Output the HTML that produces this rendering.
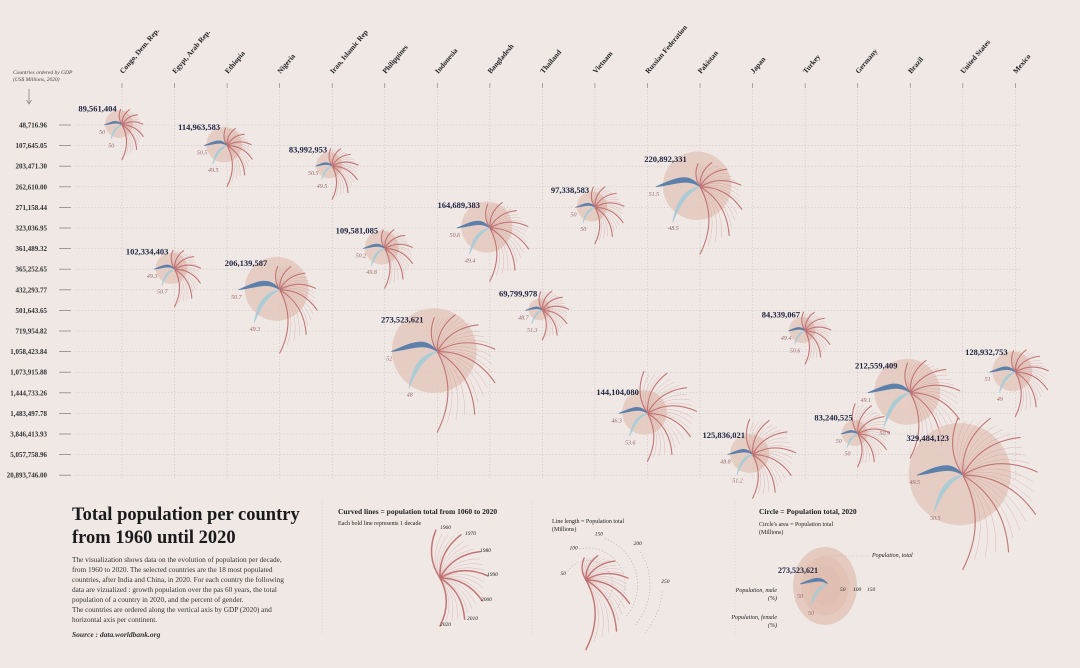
<!DOCTYPE html>
<html><head><meta charset="utf-8">
<style>
html,body{margin:0;padding:0;background:#efe8e5;}
svg{display:block;font-family:"Liberation Serif",serif;}
</style></head>
<body>
<svg id="chart" width="1080" height="668" viewBox="0 0 1080 668" xmlns="http://www.w3.org/2000/svg">
<rect x="0" y="0" width="1080" height="668" fill="#efe8e5"/>
<g id="grid"></g>
<g id="marks"></g>
<g id="legend"></g>
<g>
<text x="72" y="520" font-size="18.5" font-weight="bold" fill="#1a1a1a">Total population per country</text>
<text x="72" y="543" font-size="18.5" font-weight="bold" fill="#1a1a1a">from 1960 until 2020</text>
<g font-size="7.3" fill="#333">
<text x="72" y="562">The visualization shows data on the evolution of population per decade,</text>
<text x="72" y="572">from 1960 to 2020.  The selected countries are the 18 most populated</text>
<text x="72" y="582">countries, after India and China, in 2020. For each country the following</text>
<text x="72" y="592">data are vizualized : growth population over the pas 60 years, the total</text>
<text x="72" y="602">population of a country in 2020, and the percent of gender.</text>
<text x="72" y="612">The countries are ordered along the vertical axis by GDP (2020) and</text>
<text x="72" y="622">horizontal axis per continent.</text>
</g>
<text x="72" y="637" font-size="7.5" font-style="italic" font-weight="bold" fill="#333">Source : data.worldbank.org</text>
</g>
</svg>
<script>
const countries = ["Congo, Dem. Rep.","Egypt, Arab Rep.","Ethiopia","Nigeria","Iran, Islamic Rep","Philippines","Indonesia","Bangladesh","Thailand","Vietnam","Russian Federation","Pakistan","Japan","Turkey","Germany","Brazil","United States","Mexico"];
const gdpTicks = ["48,716.96","107,645.05","203,471.30","262,610.00","271,158.44","323,036.95","361,489.32","365,252.65","432,293.77","501,643.65","719,954.82","1,058,423.84","1,073,915.88","1,444,733.26","1,483,497.78","3,846,413.93","5,057,758.96","20,893,746.00"];
const gdpRow = [0,7,1,8,2,6,11,5,9,4,14,3,16,10,15,13,17,12];
const pop2020 = [89561404,102334403,114963583,206139587,83992953,109581085,273523621,164689383,69799978,97338583,144104080,220892331,125836021,84339067,83240525,212559409,329484123,128932753];
const malePct = [50,49.3,50.5,50.7,50.5,50.2,52,50.6,48.7,50,46.3,51.5,48.8,49.4,50,49.1,49.5,51];
const femalePct = [50,50.7,49.5,49.3,49.5,49.8,48,49.4,51.3,50,53.6,48.5,51.2,50.6,50,50.9,50.5,49];
const decades = [1960,1970,1980,1990,2000,2010,2020];
const popCongo=[15,20,26,35,48,66,90], popEgypt=[27,34,43,56,69,87,102], popEthiopia=[22,28,35,48,66,89,115];
const popNigeria=[45,55,73,95,122,159,206], popIran=[22,29,38,56,66,75,84], popPhilippines=[27,36,48,62,78,94,110];
const popIndonesia=[88,115,147,182,214,244,274], popBangladesh=[48,65,79,104,128,148,165], popThailand=[27,36,47,57,63,67,70];
const popVietnam=[33,43,54,68,80,88,97], popRussia=[120,130,139,148,147,143,144], popPakistan=[45,59,80,115,142,179,221];
const popJapan=[93,104,117,124,127,128,126], popTurkey=[28,35,44,54,64,73,84], popGermany=[73,78,78,79,82,81,83];
const popBrazil=[72,96,122,150,175,196,213], popUS=[181,205,227,250,282,309,329], popMexico=[38,51,68,84,98,114,129];
const decadePops=[popCongo,popEgypt,popEthiopia,popNigeria,popIran,popPhilippines,popIndonesia,popBangladesh,popThailand,popVietnam,popRussia,popPakistan,popJapan,popTurkey,popGermany,popBrazil,popUS,popMexico];
const arcTicks=[50,100,150,200,250];

const NS="http://www.w3.org/2000/svg";
function mk(tag,attrs,parent){const e=document.createElementNS(NS,tag);for(const k in attrs)e.setAttribute(k,attrs[k]);parent.appendChild(e);return e;}
const xCol=i=>122+i*52.55;
const yRow=i=>125+i*20.6;
const rScale=p=>p/1e6*0.155;
const lenScale=m=>12+m*0.25;
const grid=document.getElementById('grid'), marks=document.getElementById('marks'), legend=document.getElementById('legend');

let t=mk('text',{x:13,y:74,'font-size':5.5,'font-style':'italic',fill:'#444'},grid);t.textContent="Countries ordered by GDP";


t=mk('text',{x:13,y:81,'font-size':5.5,'font-style':'italic',fill:'#444'},grid);t.textContent="(US$ Millions, 2020)";


mk('line',{x1:29,y1:89,x2:29,y2:103,stroke:'#777','stroke-width':0.7},grid);
mk('path',{d:'M26.5 100 L29 104 L31.5 100',fill:'none',stroke:'#777','stroke-width':0.7},grid);

gdpTicks.forEach((g,i)=>{
  const y=yRow(i);
  const l=mk('line',{x1:75,y1:y,x2:1020,y2:y,stroke:'#c4c0bd','stroke-width':0.6,'stroke-dasharray':'1.2 2'},grid);
  
  
  mk('line',{x1:59,y1:y,x2:71,y2:y,stroke:'#888','stroke-width':0.8},grid);
  const tx=mk('text',{x:47,y:y+2.5,'font-size':7,'font-weight':'bold','text-anchor':'end',fill:'#333'},grid);
  tx.textContent=g;
  
  
});
countries.forEach((c,i)=>{
  const x=xCol(i);
  const l=mk('line',{x1:x,y1:90,x2:x,y2:480,stroke:'#c4c0bd','stroke-width':0.6,'stroke-dasharray':'1.2 2'},grid);
  
  
  mk('line',{x1:x,y1:83,x2:x,y2:88,stroke:'#888','stroke-width':0.7},grid);
  const tx=mk('text',{x:x+1,y:74,'font-size':7.3,'font-weight':'bold',fill:'#222',transform:`rotate(-50 ${x+1} 74)`},grid);
  tx.textContent=c;
  
  
});

function curve(g,cx,cy,L,deg,w,op,col){
  const a=deg*Math.PI/180;
  const ex=cx+L*Math.cos(a), ey=cy+L*Math.sin(a);
  const ca=a-0.5;
  const qx=cx+L*0.55*Math.cos(ca), qy=cy+L*0.55*Math.sin(ca);
  return mk('path',{d:`M${cx} ${cy} Q${qx} ${qy} ${ex} ${ey}`,fill:'none',stroke:col,'stroke-width':w,'stroke-linecap':'round',opacity:op},g);
}
function fan(g,cx,cy,vals,lf,w){
  const n=vals.length, span=185, step=span/(n-1);
  for(let k=0;k<n;k++){
    const L=lf(vals[k]);
    const deg=-95+k*step;
    if(k<n-1){
      const L2=lf(vals[k+1]);
      for(let j=1;j<=3;j++){
        curve(g,cx,cy,(L+(L2-L)*j/4)*0.92,deg+step*j/4,0.5,0.5,'#c98a88');
      }
    }
    const p=curve(g,cx,cy,L,deg,w,0.95,'#bf6f6e');
    
    
  }
}
function gender(g,cx,cy,L){
  const m=mk('path',{d:`M${cx} ${cy} C${cx-L*0.25} ${cy-L*0.35} ${cx-L*0.55} ${cy-L*0.2} ${cx-L} ${cy} C${cx-L*0.55} ${cy-L*0.05} ${cx-L*0.3} ${cy-L*0.2} ${cx} ${cy}Z`,fill:'#5d80ab',stroke:'#5d80ab','stroke-width':0.6},g);
  
  
  const f=mk('path',{d:`M${cx} ${cy} C${cx-L*0.4} ${cy+L*0.05} ${cx-L*0.55} ${cy+L*0.4} ${cx-L*0.62} ${cy+L*0.8} C${cx-L*0.45} ${cy+L*0.4} ${cx-L*0.3} ${cy+L*0.15} ${cx} ${cy}Z`,fill:'#a9ccd6',stroke:'#a9ccd6','stroke-width':0.6},g);
  
  
}
countries.forEach((c,i)=>{
  const cx=xCol(i), cy=yRow(gdpRow[i]);
  const g=mk('g',{},marks);
  
  
  const r=rScale(pop2020[i]);
  const ci=mk('circle',{cx:cx-3,cy:cy-1,r:r,fill:'#e3c4b8',opacity:0.75},g);
  
  
  fan(g,cx,cy,decadePops[i],lenScale,1.1);
  const L=Math.min(46,Math.max(17,pop2020[i]/1e6*0.2));
  gender(g,cx,cy,L);
  const lab=mk('text',{x:cx-L*0.3,y:cy-Math.max(r,14)*0.55-6,'font-size':8.5,'font-weight':'bold','text-anchor':'end',fill:'#1f2340'},g);
  lab.textContent=pop2020[i].toLocaleString('en-US');
  
  
  const ml=mk('text',{x:cx-L-2,y:cy+9,'font-size':6,'font-style':'italic',fill:'#9c6a68','text-anchor':'middle'},g);
  ml.textContent=malePct[i];
  
  
  const fl=mk('text',{x:cx-L*0.6,y:cy+L*0.8+8,'font-size':6,'font-style':'italic',fill:'#9c6a68','text-anchor':'middle'},g);
  fl.textContent=femalePct[i];
  
  
});

// Legends
function txt(x,y,s,str,opt,name){const e=mk('text',Object.assign({x:x,y:y,'font-size':s,fill:'#222'},opt||{}),legend);e.textContent=str;return e;}
[322,532,735].forEach(x=>mk('line',{x1:x,y1:500,x2:x,y2:635,stroke:'#ccc','stroke-width':0.6,'stroke-dasharray':'1.2 2'},legend));
txt(338,514,7.5,"Curved lines = population total from 1060 to 2020",{'font-weight':'bold'},'legend-curves-title');
txt(338,525,6,"Each bold line represents 1 decade",{},'legend-curves-subtitle');
fan(legend,440,578,[150,150,150,150,150,150,150],v=>48,1.5);
const yrPos=[[440,529],[465,535],[480,552],[487,576],[481,601],[467,620],[440,626]];
decades.forEach((d,k)=>txt(yrPos[k][0],yrPos[k][1],5.5,String(d),{'font-style':'italic'},'legend-year-label'));
txt(552,523,6,"Line length = Population total",{},'legend-length-title');
txt(552,531,6,"(Millions)",{},'legend-length-subtitle');
const lcx=588,lcy=585;
const arcR=v=>12+v*0.25;
const labAng=[-154,-111,-78,-40,-3];
arcTicks.forEach((v,k)=>{const R=arcR(v);
  const endDeg=40;
  const a0=(labAng[k]+8)*Math.PI/180,a1=endDeg*Math.PI/180;
  const large=(endDeg-(labAng[k]+8))>180?1:0;
  mk('path',{d:`M${lcx+R*Math.cos(a0)} ${lcy+R*Math.sin(a0)} A${R} ${R} 0 ${large} 1 ${lcx+R*Math.cos(a1)} ${lcy+R*Math.sin(a1)}`,fill:'none',stroke:'#aaa','stroke-width':0.6,'stroke-dasharray':'1.2 2'},legend);
  const la=labAng[k]*Math.PI/180;
  txt(lcx+(R+3)*Math.cos(la),lcy+(R+3)*Math.sin(la)+2,5.5,String(v),{'font-style':'italic','text-anchor':'middle'},'legend-length-tick');});
fan(legend,586,580,[40,60,90,120,150,190,230],v=>12+v*0.25,1.4);
txt(759,514,7.5,"Circle = Population total, 2020",{'font-weight':'bold'},'legend-circle-title');
txt(759,526,6,"Circle's area = Population total",{},'legend-circle-subtitle');
txt(759,534,6,"(Millions)",{},'legend-circle-subtitle2');
const ccx=825,ccy=586;
[[1,0.7],[0.75,0.6],[0.5,0.55],[0.28,0.5]].forEach(a=>mk('ellipse',{cx:ccx,cy:ccy,rx:32*a[0],ry:39*a[0],fill:'#e0bdaf',opacity:a[1]},legend));
gender(legend,ccx+3,ccy-2,28);
txt(778,573,8,"273,523,621",{'font-weight':'bold',fill:'#1f2340'},'legend-population-label');
txt(840,591,5.5,"50",{'font-style':'italic'},'legend-circle-tick');
txt(853,591,5.5,"100",{'font-style':'italic'},'legend-circle-tick');
txt(867,591,5.5,"150",{'font-style':'italic'},'legend-circle-tick');
txt(872,557,6,"Population, total",{'font-style':'italic'},'legend-total-note');
mk('line',{x1:821,y1:556,x2:870,y2:556,stroke:'#aaa','stroke-width':0.5,'stroke-dasharray':'1 1.5'},legend);
txt(777,592,6,"Population, male",{'font-style':'italic','text-anchor':'end'},'legend-male-note');
txt(777,600,6,"(%)",{'font-style':'italic','text-anchor':'end'},'legend-male-unit');
txt(777,619,6,"Population, female",{'font-style':'italic','text-anchor':'end'},'legend-female-note');
txt(777,627,6,"(%)",{'font-style':'italic','text-anchor':'end'},'legend-female-unit');
txt(797,598,6,"50",{'font-style':'italic',fill:'#9c6a68'},'legend-male-pct');
txt(808,615,6,"50",{'font-style':'italic',fill:'#9c6a68'},'legend-female-pct');
</script>
</body></html>
